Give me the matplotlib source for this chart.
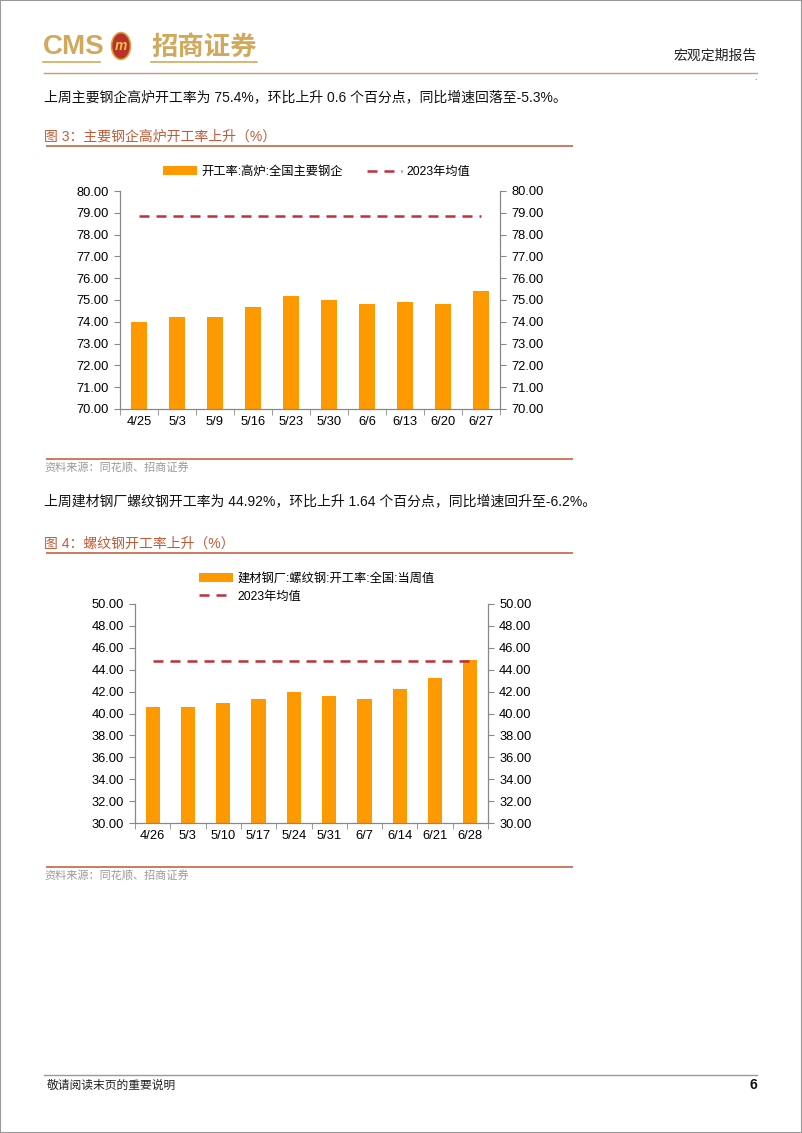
import matplotlib
matplotlib.use('Agg')
import matplotlib.pyplot as plt
from matplotlib.patches import Circle, Rectangle
from matplotlib.lines import Line2D
from matplotlib.ticker import FixedLocator, FormatStrFormatter
import numpy as np

# ---------------- data ----------------
dates1 = ['4/25', '5/3', '5/9', '5/16', '5/23', '5/30', '6/6', '6/13', '6/20', '6/27']
values1 = [74.0, 74.2, 74.2, 74.7, 75.2, 75.0, 74.8, 74.9, 74.8, 75.4]
mean1 = 78.85
label1_bar = '开工率:高炉:全国主要钢企'
label_mean = '2023年均值'

dates2 = ['4/26', '5/3', '5/10', '5/17', '5/24', '5/31', '6/7', '6/14', '6/21', '6/28']
values2 = [40.62, 40.62, 40.95, 41.28, 41.93, 41.62, 41.28, 42.28, 43.28, 44.92]
mean2 = 44.82
label2_bar = '建材钢厂:螺纹钢:开工率:全国:当周值'

W, H = 802, 1133
fig = plt.figure(figsize=(W / 100, H / 100), dpi=100)

FONT = ['Liberation Sans', 'Noto Sans CJK SC']
CJK = ['Noto Sans CJK SC', 'Liberation Sans']
ORANGE = '#FF9900'
DRED = '#C0303A'
TITLE_C = '#C25A36'
LINE_C = '#CC7A5C'
GOLD = '#D2A95C'
TS = 9.3
LS = 8.8


def fx(x):
    return x / W


def fy(y):
    return 1 - y / H


def text(x, y, s, **kw):
    kw.setdefault('va', 'center')
    fig.text(fx(x), fy(y), s, **kw)


def hline(x0, x1, y, color, lw):
    fig.add_artist(Line2D([fx(x0), fx(x1)], [fy(y), fy(y)], color=color, lw=lw,
                          transform=fig.transFigure))


# page frame
fig.add_artist(Rectangle((0, 0), 1, 1, transform=fig.transFigure, fill=False,
                         edgecolor='#999999', lw=1.5))

# ---------------- header ----------------
text(43, 47, 'CMS', fontsize=20, fontweight='bold', color=GOLD, family=FONT)
fig.add_artist(Circle((fx(121), fy(46)), 9.5 / W, transform=fig.transFigure,
                      facecolor='#B8322A', edgecolor='#D9A441', lw=1.2))
text(121, 46, 'm', fontsize=10, fontweight='bold', color='#F2C14E', ha='center',
     family=FONT, style='italic')
text(151, 47, '招商证券', fontsize=19, fontweight='bold', color=GOLD, family=CJK)
hline(43, 100, 62, GOLD, 1.2)
hline(151, 257, 62, GOLD, 1.2)
text(757, 56, '宏观定期报告', fontsize=10, ha='right', family=CJK, color='#222222')
hline(44, 757, 73, '#D9907A', 1.0)
text(754, 78, '.', fontsize=6, family=FONT, color='#333333')

# ---------------- paragraph 1 & title 3 ----------------
text(44, 97, '上周主要钢企高炉开工率为 75.4%，环比上升 0.6 个百分点，同比增速回落至-5.3%。',
     fontsize=10, family=FONT, color='#111111')
text(44, 137, '图 3：主要钢企高炉开工率上升（%）', fontsize=10, family=FONT, color=TITLE_C)
hline(47, 572, 146, LINE_C, 1.4)


def ax_rect(l, t, r, b):
    return [fx(l), fy(b), (r - l) / W, (b - t) / H]


def draw_chart(rect, cats, vals, mean, bar_label, yticks, legend_kw):
    ax = fig.add_axes(rect)
    x = np.arange(len(cats))
    bars = ax.bar(x, vals, width=0.4, color=ORANGE, label=bar_label, zorder=2)
    line, = ax.plot(x, [mean] * len(x), color=DRED, lw=1.8, dashes=(4, 2.8),
                    label=label_mean, zorder=3)
    ax.set_xlim(-0.5, len(cats) - 0.5)
    ax.set_ylim(yticks[0], yticks[-1])
    ax.yaxis.set_major_locator(FixedLocator(yticks))
    ax.yaxis.set_major_formatter(FormatStrFormatter('%.2f'))
    ax.set_xticks(x)
    ax.set_xticklabels(cats)
    ax.xaxis.set_minor_locator(FixedLocator(np.arange(-0.5, len(cats), 1.0)))
    ax.tick_params(axis='x', which='major', length=0, pad=5, labelsize=TS)
    ax.tick_params(axis='x', which='minor', length=4, color='#888888')
    ax.tick_params(axis='y', length=4, color='#888888', labelsize=TS, pad=4)
    for lab in ax.get_xticklabels() + ax.get_yticklabels():
        lab.set_family(FONT)
    ax.spines['top'].set_visible(False)
    ax.spines['right'].set_visible(False)
    for s in ('left', 'bottom'):
        ax.spines[s].set_color('#888888')
        ax.spines[s].set_linewidth(0.9)
    axr = ax.twinx()
    axr.set_ylim(yticks[0], yticks[-1])
    axr.yaxis.set_major_locator(FixedLocator(yticks))
    axr.yaxis.set_major_formatter(FormatStrFormatter('%.2f'))
    axr.tick_params(axis='y', length=4, color='#888888', labelsize=TS, pad=4)
    for lab in axr.get_yticklabels():
        lab.set_family(FONT)
    for s in ('top', 'left', 'bottom'):
        axr.spines[s].set_visible(False)
    axr.spines['right'].set_color('#888888')
    axr.spines['right'].set_linewidth(0.9)
    axr.legend([bars, line], [bar_label, label_mean], frameon=False,
               prop={'family': FONT, 'size': LS},
               bbox_transform=fig.transFigure, handlelength=2.8,
               handletextpad=0.35, borderaxespad=0, borderpad=0, **legend_kw)
    return ax


yt1 = [70.0, 71.0, 72.0, 73.0, 74.0, 75.0, 76.0, 77.0, 78.0, 79.0, 80.0]
draw_chart(ax_rect(120, 191, 500, 409), dates1, values1, mean1, label1_bar, yt1,
           dict(ncol=2, loc='center left', bbox_to_anchor=(fx(163), fy(172)),
                columnspacing=2.0))

hline(47, 572, 459, LINE_C, 1.4)
text(44, 468, '资料来源：同花顺、招商证券', fontsize=8, family=CJK, color='#9A9A9A')

# ---------------- paragraph 2 & title 4 ----------------
text(44, 501, '上周建材钢厂螺纹钢开工率为 44.92%，环比上升 1.64 个百分点，同比增速回升至-6.2%。',
     fontsize=10, family=FONT, color='#111111')
text(44, 544, '图 4：螺纹钢开工率上升（%）', fontsize=10, family=FONT, color=TITLE_C)
hline(47, 572, 553, LINE_C, 1.4)

yt2 = [30.0, 32.0, 34.0, 36.0, 38.0, 40.0, 42.0, 44.0, 46.0, 48.0, 50.0]
draw_chart(ax_rect(135, 604, 488, 823), dates2, values2, mean2, label2_bar, yt2,
           dict(ncol=1, loc='upper left', bbox_to_anchor=(fx(199), fy(573)),
                labelspacing=0.45))

hline(47, 572, 867, LINE_C, 1.4)
text(44, 876, '资料来源：同花顺、招商证券', fontsize=8, family=CJK, color='#9A9A9A')

# ---------------- footer ----------------
hline(44, 757, 1075, '#999999', 1.0)
text(47, 1085, '敬请阅读末页的重要说明', fontsize=8.5, family=CJK, color='#222222')
text(757, 1085, '6', fontsize=10, fontweight='bold', ha='right', family=FONT, color='#111111')

fig.savefig('out.png', dpi=100)
